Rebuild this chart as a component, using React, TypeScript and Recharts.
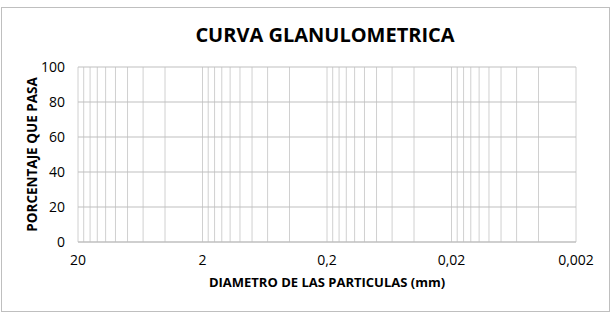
import { LineChart, Line, XAxis, YAxis, ReferenceLine, Label } from "recharts";

const TITLE = "CURVA GLANULOMETRICA";
const X_LABEL = "DIAMETRO DE LAS PARTICULAS (mm)";
const Y_LABEL = "PORCENTAJE QUE PASA";

const X_TICKS = [20, 2, 0.2, 0.02, 0.002];
const Y_TICKS = [0, 20, 40, 60, 80, 100];
const DECADE_STARTS = [0.002, 0.02, 0.2, 2];
const MINOR_STEPS = [1, 2, 3, 4, 5, 6, 7, 8, 9];

// the sheet has no curve plotted yet: only the sieve sizes, no % passing
const SIZES = [20, 2, 0.2, 0.02, 0.002];
const PASSING: (number | null)[] = [null, null, null, null, null];

// log grid: every step inside each decade, plus the top end
const GRID_X = [...DECADE_STARTS.flatMap((d) => MINOR_STEPS.map((k) => d * k)), 20];

const FONT = "'Open Sans', Lato, sans-serif";

const fmt = (v: number) => String(v).replace(".", ",");

const rows = SIZES.map((d, i) => ({ d, p: PASSING[i] }));

export default function App() {
  return (
    <div
      style={{
        position: "absolute",
        left: 0,
        top: 0,
        width: 615,
        height: 315,
        background: "#fff",
        fontFamily: FONT,
      }}
    >
      <div
        style={{
          position: "absolute",
          left: 1,
          top: 7,
          width: 607,
          height: 303,
          border: "1px solid #bfbfbf",
        }}
      />
      <div
        style={{
          position: "absolute",
          left: 0,
          width: 650,
          top: 21,
          textAlign: "center",
          fontSize: 20,
          fontWeight: 700,
          color: "#000",
        }}
      >
        {TITLE}
      </div>
      <div style={{ position: "absolute", left: 0, top: 0 }}>
        <LineChart
          width={615}
          height={315}
          data={rows}
          margin={{ top: 67, right: 39, bottom: 43, left: 38 }}
        >
          {GRID_X.map((v, i) => (
            <ReferenceLine key={"x" + i} x={v} stroke="#d0d0d0" ifOverflow="visible" />
          ))}
          {Y_TICKS.map((v) => (
            <ReferenceLine key={"y" + v} y={v} stroke="#bfbfbf" ifOverflow="visible" />
          ))}
          <XAxis
            type="number"
            dataKey="d"
            scale="log"
            domain={[0.002, 20]}
            reversed
            ticks={X_TICKS}
            tickFormatter={fmt}
            allowDataOverflow
            height={30}
            tickLine={false}
            tickSize={0}
            tickMargin={13}
            stroke="#bfbfbf"
            tick={{ fill: "#000", fontSize: 14, fontFamily: FONT }}
          >
            <Label
              value={X_LABEL}
              position="bottom"
              offset={6}
              style={{ fill: "#000", fontSize: 13, fontWeight: 700, fontFamily: FONT }}
            />
          </XAxis>
          <YAxis
            type="number"
            domain={[0, 100]}
            ticks={Y_TICKS}
            allowDataOverflow
            width={40}
            axisLine={false}
            tickLine={false}
            tickSize={0}
            tickMargin={13}
            tick={{ fill: "#000", fontSize: 14, fontFamily: FONT }}
          >
            <Label
              value={Y_LABEL}
              angle={-90}
              position="insideLeft"
              offset={-6}
              style={{ textAnchor: "middle", fill: "#000", fontSize: 13.5, fontWeight: 700, fontFamily: FONT }}
            />
          </YAxis>
          <Line dataKey="p" stroke="#4472c4" dot={false} isAnimationActive={false} />
        </LineChart>
      </div>
    </div>
  );
}
